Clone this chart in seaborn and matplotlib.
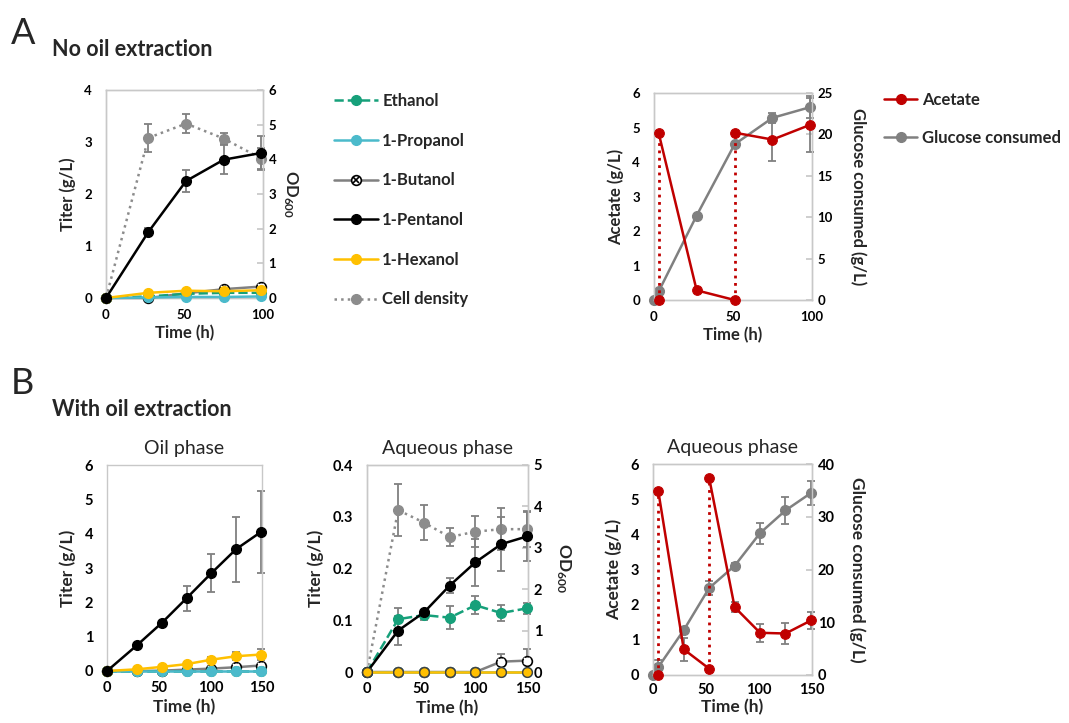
import numpy as np
import pandas as pd
import matplotlib
matplotlib.use('Agg')
import matplotlib.pyplot as plt
import seaborn as sns
from matplotlib.lines import Line2D
from matplotlib.ticker import FuncFormatter

# ---------------- data ----------------
A_time = [0, 27, 51, 75, 99]
A_ethanol = [0, 0.03, 0.08, 0.10, 0.10]
A_propanol = [0, 0.01, 0.02, 0.02, 0.03]
A_butanol = [0, 0.00, 0.09, 0.17, 0.22]
A_pentanol = [0, 1.27, 2.25, 2.66, 2.79]
A_pentanol_err = [0, 0.07, 0.21, 0.28, 0.33]
A_hexanol = [0, 0.10, 0.14, 0.13, 0.15]
A_od = [0, 4.62, 5.03, 4.60, 4.02]
A_od_err = [0, 0.40, 0.27, 0.15, 0.30]

A_acet_time = [3, 3, 27, 51, 51, 75, 99]
A_acetate = [0, 4.83, 0.28, 0.0, 4.85, 4.65, 5.08]
A_acetate_err = [0, 0, 0, 0, 0, 0.62, 0.78]
A_glc_time = [0, 3, 27, 51, 75, 99]
A_glucose = [0, 1.05, 10.2, 18.8, 22.0, 23.3]
A_glucose_err = [0, 0, 0, 0, 0.6, 1.3]

B_time = [0, 29, 53, 77, 101, 125, 149]
B_oil_ethanol = [0, 0, 0, 0, 0, 0, 0]
B_oil_propanol = [0, 0, 0, 0, 0, 0, 0]
B_oil_butanol = [0, 0.0, 0.01, 0.04, 0.07, 0.11, 0.16]
B_oil_pentanol = [0, 0.75, 1.40, 2.12, 2.85, 3.55, 4.05]
B_oil_pentanol_err = [0, 0.03, 0.03, 0.36, 0.56, 0.95, 1.20]
B_oil_hexanol = [0, 0.05, 0.12, 0.20, 0.33, 0.43, 0.48]
B_oil_hexanol_err = [0, 0.02, 0.03, 0.04, 0.08, 0.12, 0.16]

B_aq_ethanol = [0, 0.102, 0.110, 0.105, 0.129, 0.114, 0.123]
B_aq_ethanol_err = [0, 0.021, 0.010, 0.022, 0.017, 0.016, 0.010]
B_aq_propanol = [0, 0, 0, 0, 0, 0, 0]
B_aq_butanol = [0, 0, 0, 0, 0, 0.020, 0.022]
B_aq_butanol_err = [0, 0, 0, 0, 0, 0.015, 0.022]
B_aq_pentanol = [0, 0.080, 0.115, 0.167, 0.212, 0.247, 0.262]
B_aq_pentanol_err = [0, 0.028, 0.005, 0.015, 0.045, 0.052, 0.048]
B_aq_hexanol = [0, 0, 0, 0, 0, 0, 0]
B_aq_od = [0, 3.91, 3.61, 3.26, 3.39, 3.45, 3.45]
B_aq_od_err = [0, 0.63, 0.42, 0.21, 0.38, 0.50, 0.43]

B_acet_time = [5, 5, 29, 53, 53, 77, 101, 125, 149]
B_acetate = [0, 5.23, 0.73, 0.18, 5.60, 1.93, 1.20, 1.18, 1.55]
B_acetate_err = [0, 0, 0.33, 0, 0, 0.15, 0.25, 0.30, 0.23]
B_glc_time = [0, 5, 29, 53, 77, 101, 125, 149]
B_glucose = [0, 1.5, 8.5, 16.5, 20.7, 26.9, 31.2, 34.5]
B_glucose_err = [0, 1.3, 0.5, 1.3, 0.6, 2.0, 2.6, 2.2]

legend_alcohols = ['Ethanol', '1-Propanol', '1-Butanol', '1-Pentanol', '1-Hexanol', 'Cell density']
legend_acetate = ['Acetate', 'Glucose consumed']

# ---------------- style ----------------
sns.set_theme(style='white')
plt.rcParams['font.family'] = ['Lato', 'DejaVu Sans']
plt.rcParams['mathtext.fontset'] = 'custom'
plt.rcParams['mathtext.rm'] = 'Lato:bold'
plt.rcParams['mathtext.it'] = 'Lato:bold'
plt.rcParams['mathtext.bf'] = 'Lato:bold'

C_ETH = '#16a07a'
C_PRO = '#4bbacb'
C_BUT = '#808080'
C_PEN = '#000000'
C_HEX = '#ffc000'
C_OD = '#8c8c8c'
C_ACE = '#c00000'
C_GLC = '#808080'
C_ERR = '#808080'
SPINE = '#c8c8c8'
LW = 1.8
MS = 7

W, H = 1069, 723
fig = plt.figure(figsize=(W / 100, H / 100), dpi=100)


def px_axes(x0, y0, x1, y1):
    return fig.add_axes([x0 / W, 1 - y1 / H, (x1 - x0) / W, (y1 - y0) / H])


fmt = FuncFormatter(lambda v, p: f'{v:g}')


def style(ax, xmax, ymax, ystep, tfs, right=False, xpad=8):
    ax.set_xlim(0, xmax)
    ax.set_ylim(0, ymax)
    ax.set_xticks(np.arange(0, xmax + 1, 50))
    ax.set_yticks(np.arange(0, ymax + ystep / 2, ystep))
    ax.yaxis.set_major_formatter(fmt)
    for s in ax.spines.values():
        s.set_color(SPINE)
        s.set_linewidth(1)
        s.set_visible(True)
    ax.tick_params(axis='both', labelsize=tfs, colors='black')
    for lab in ax.get_xticklabels() + ax.get_yticklabels():
        lab.set_fontweight('bold')
    ax.tick_params(axis='x', direction='in', length=3, color=SPINE, pad=xpad)
    if right:
        ax.tick_params(axis='y', direction='in', length=4, color=SPINE, pad=4,
                       left=False, right=True)
    else:
        ax.tick_params(axis='y', length=0, pad=10)
    ax.grid(False)


def line(ax, t, y, color, ls='-', face=None, zorder=3):
    sns.lineplot(x=t, y=y, ax=ax, color=color, linestyle=ls, linewidth=LW,
                 marker='o', markersize=MS, markeredgecolor=color if face is None else '#404040',
                 markerfacecolor=color if face is None else face, markeredgewidth=1,
                 estimator=None, sort=False, errorbar=None, clip_on=False,
                 zorder=zorder, legend=False)


def butanol(ax, t, y):
    sns.lineplot(x=t, y=y, ax=ax, color=C_BUT, linewidth=LW, marker='o', markersize=MS,
                 markerfacecolor='white', markeredgecolor='black', markeredgewidth=1.2,
                 estimator=None, sort=False, errorbar=None, clip_on=False, zorder=2.8, legend=False)
    sns.lineplot(x=t, y=y, ax=ax, color='black', linestyle='', marker='x', markersize=4,
                 markeredgewidth=1.2, estimator=None, sort=False, errorbar=None,
                 clip_on=False, zorder=2.9, legend=False)


def err(ax, t, y, e):
    t, y, e = np.asarray(t), np.asarray(y), np.asarray(e)
    m = e > 0
    if m.any():
        ax.errorbar(t[m], y[m], yerr=e[m], fmt='none', ecolor=C_ERR, elinewidth=1.3,
                    capsize=3, capthick=1.3, zorder=2.5, clip_on=False)


def acetate(ax, t, y, e):
    for i in range(len(t) - 1):
        ls = ':' if t[i] == t[i + 1] else '-'
        sns.lineplot(x=[t[i], t[i + 1]], y=[y[i], y[i + 1]], ax=ax, color=C_ACE,
                     linestyle=ls, linewidth=LW if ls == '-' else 2.0, estimator=None,
                     sort=False, errorbar=None, clip_on=False, zorder=3, legend=False)
    sns.lineplot(x=t, y=y, ax=ax, color=C_ACE, linestyle='', marker='o', markersize=MS,
                 markeredgecolor=C_ACE, estimator=None, sort=False, errorbar=None,
                 clip_on=False, zorder=3.2, legend=False)
    err(ax, t, y, e)


def front(ax, tw):
    ax.set_zorder(tw.get_zorder() + 1)
    ax.patch.set_visible(False)


A_TFS, A_LFS = 9.5, 12
B_TFS, B_LFS = 10.5, 12.5

# ---------------- Panel A1 ----------------
ax = px_axes(106, 90, 263, 298)
tw = ax.twinx()
line(tw, A_time, A_od, C_OD, ls=':')
err(tw, A_time, A_od, A_od_err)
butanol(ax, A_time, A_butanol)
line(ax, A_time, A_ethanol, C_ETH, ls='--')
line(ax, A_time, A_propanol, C_PRO)
line(ax, A_time, A_hexanol, C_HEX)
line(ax, A_time, A_pentanol, C_PEN)
err(ax, A_time, A_pentanol, A_pentanol_err)
style(ax, 100, 4, 1, A_TFS)
style(tw, 100, 6, 1, A_TFS, right=True)
front(ax, tw)
ax.set_xlabel('Time (h)', fontsize=A_LFS, fontweight='bold', labelpad=3)
ax.set_ylabel('Titer (g/L)', fontsize=A_LFS, fontweight='bold', labelpad=6)
tw.set_ylabel('OD$_{600}$', fontsize=A_LFS, fontweight='bold', rotation=270, labelpad=17)

# ---------------- Panel A2 ----------------
ax = px_axes(654, 93, 812, 300)
tw = ax.twinx()
line(tw, A_glc_time, A_glucose, C_GLC)
err(tw, A_glc_time, A_glucose, A_glucose_err)
acetate(ax, A_acet_time, A_acetate, A_acetate_err)
style(ax, 100, 6, 1, A_TFS)
style(tw, 100, 25, 5, A_TFS, right=True)
front(ax, tw)
ax.set_xlabel('Time (h)', fontsize=A_LFS, fontweight='bold', labelpad=3)
ax.set_ylabel('Acetate (g/L)', fontsize=A_LFS, fontweight='bold', labelpad=6)
tw.set_ylabel('Glucose consumed (g/L)', fontsize=A_LFS, fontweight='bold', rotation=270, labelpad=24)

# ---------------- Panel B1 ----------------
ax = px_axes(107, 465, 262, 671)
butanol(ax, B_time, B_oil_butanol)
line(ax, B_time, B_oil_ethanol, C_ETH, ls='--')
line(ax, B_time, B_oil_propanol, C_PRO)
line(ax, B_time, B_oil_hexanol, C_HEX)
err(ax, B_time, B_oil_hexanol, B_oil_hexanol_err)
line(ax, B_time, B_oil_pentanol, C_PEN)
err(ax, B_time, B_oil_pentanol, B_oil_pentanol_err)
style(ax, 150, 6, 1, B_TFS, xpad=7)
ax.set_xlabel('Time (h)', fontsize=B_LFS, fontweight='bold', labelpad=3)
ax.set_ylabel('Titer (g/L)', fontsize=B_LFS, fontweight='bold', labelpad=6)
ax.set_title('Oil phase', fontsize=14, pad=8)

# ---------------- Panel B2 ----------------
ax = px_axes(367, 465, 528, 672)
tw = ax.twinx()
line(tw, B_time, B_aq_od, C_OD, ls=':')
err(tw, B_time, B_aq_od, B_aq_od_err)
butanol(ax, B_time, B_aq_butanol)
err(ax, B_time, B_aq_butanol, B_aq_butanol_err)
line(ax, B_time, B_aq_ethanol, C_ETH, ls='--')
err(ax, B_time, B_aq_ethanol, B_aq_ethanol_err)
line(ax, B_time, B_aq_propanol, C_PRO)
line(ax, B_time, B_aq_pentanol, C_PEN)
err(ax, B_time, B_aq_pentanol, B_aq_pentanol_err)
line(ax, B_time, B_aq_hexanol, C_HEX, face=C_HEX)
style(ax, 150, 0.4, 0.1, B_TFS, xpad=7)
style(tw, 150, 5, 1, B_TFS, right=True, xpad=7)
front(ax, tw)
ax.set_xlabel('Time (h)', fontsize=B_LFS, fontweight='bold', labelpad=3)
ax.set_ylabel('Titer (g/L)', fontsize=B_LFS, fontweight='bold', labelpad=6)
tw.set_ylabel('OD$_{600}$', fontsize=B_LFS, fontweight='bold', rotation=270, labelpad=22)
ax.set_title('Aqueous phase', fontsize=14, pad=8)

# ---------------- Panel B3 ----------------
ax = px_axes(653, 464, 812, 675)
tw = ax.twinx()
line(tw, B_glc_time, B_glucose, C_GLC)
err(tw, B_glc_time, B_glucose, B_glucose_err)
acetate(ax, B_acet_time, B_acetate, B_acetate_err)
style(ax, 150, 6, 1, B_TFS, xpad=6)
style(tw, 150, 40, 10, B_TFS, right=True, xpad=6)
front(ax, tw)
ax.set_xlabel('Time (h)', fontsize=B_LFS, fontweight='bold', labelpad=1)
ax.set_ylabel('Acetate (g/L)', fontsize=B_LFS, fontweight='bold', labelpad=6)
tw.set_ylabel('Glucose consumed (g/L)', fontsize=B_LFS, fontweight='bold', rotation=270, labelpad=22)
ax.set_title('Aqueous phase', fontsize=14, pad=8)

# ---------------- legends ----------------
but_h = (Line2D([], [], color=C_BUT, lw=LW, marker='o', ms=MS, mfc='white', mec='black', mew=1.2),
         Line2D([], [], color='black', ls='', marker='x', ms=4, mew=1.2))
h1 = [Line2D([], [], color=C_ETH, lw=LW, ls='--', marker='o', ms=MS, mec=C_ETH),
      Line2D([], [], color=C_PRO, lw=LW, marker='o', ms=MS, mec=C_PRO),
      but_h,
      Line2D([], [], color=C_PEN, lw=LW, marker='o', ms=MS, mec=C_PEN),
      Line2D([], [], color=C_HEX, lw=LW, marker='o', ms=MS, mec=C_HEX),
      Line2D([], [], color=C_OD, lw=LW, ls=':', marker='o', ms=MS, mec=C_OD)]
fig.legend(h1, legend_alcohols, loc='upper left', bbox_to_anchor=(334 / W, 1 - 93 / H),
           frameon=False, handlelength=2.65, handletextpad=0.25, labelspacing=1.42,
           borderpad=0, borderaxespad=0, prop={'size': 12, 'weight': 'bold'})

h2 = [Line2D([], [], color=C_ACE, lw=LW, marker='o', ms=MS, mec=C_ACE),
      Line2D([], [], color=C_GLC, lw=LW, marker='o', ms=MS, mec=C_GLC)]
fig.legend(h2, legend_acetate, loc='upper left', bbox_to_anchor=(884 / W, 1 - 92 / H),
           frameon=False, handlelength=2.0, handletextpad=0.3, labelspacing=1.3,
           borderpad=0, borderaxespad=0, prop={'size': 12, 'weight': 'bold'})

# ---------------- panel letters / headings ----------------
fig.text(11 / W, 1 - 33 / H, 'A', fontsize=26, va='center', ha='left')
fig.text(52 / W, 1 - 50 / H, 'No oil extraction', fontsize=15.5, fontweight='bold', va='center', ha='left')
fig.text(11 / W, 1 - 384 / H, 'B', fontsize=26, va='center', ha='left')
fig.text(52 / W, 1 - 409 / H, 'With oil extraction', fontsize=15.5, fontweight='bold', va='center', ha='left')

fig.savefig('out.png', dpi=100, facecolor='white')
